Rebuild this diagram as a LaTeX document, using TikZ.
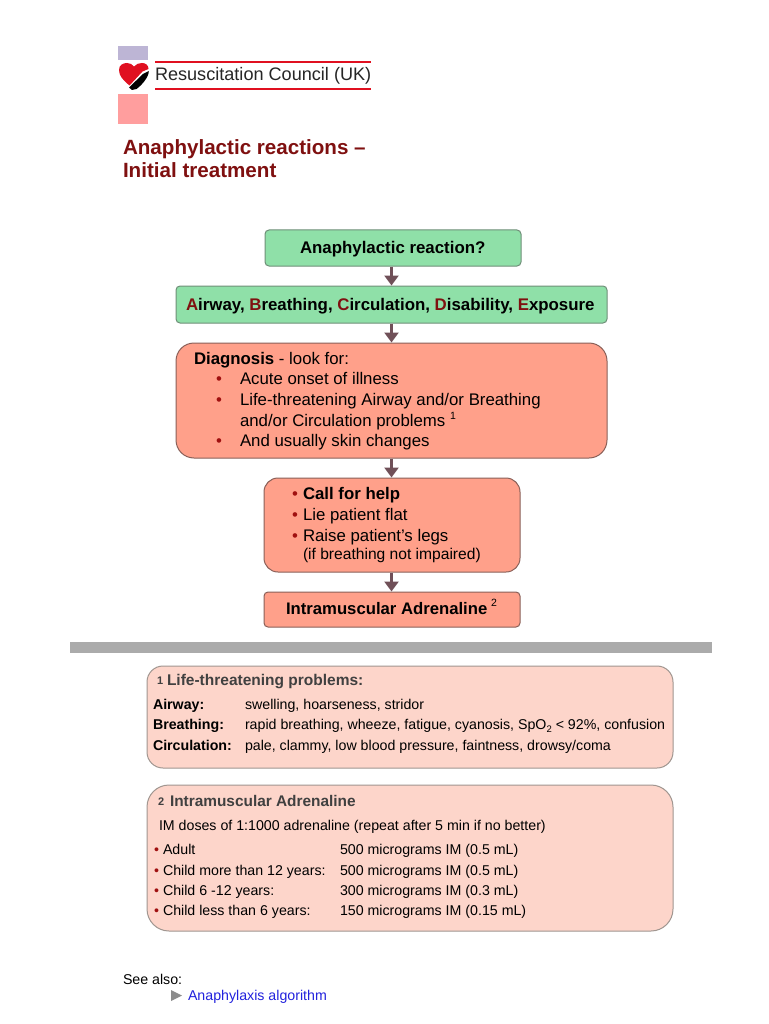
\documentclass[tikz,border=0pt]{standalone}
\usepackage{fontspec}
\setmainfont{Liberation Sans}
\usetikzlibrary{arrows.meta}
\definecolor{gfill}{HTML}{8FE0A8}
\definecolor{gline}{HTML}{6F8F78}
\definecolor{sfill}{HTML}{FFA08A}
\definecolor{sline}{HTML}{8A6058}
\definecolor{pfill}{HTML}{FDD5CA}
\definecolor{pline}{HTML}{A09690}
\definecolor{arr}{HTML}{705058}
\definecolor{dred}{HTML}{7F1010}
\definecolor{bul}{HTML}{A01010}
\definecolor{hd}{HTML}{404040}
\definecolor{lnk}{HTML}{2222DD}
\definecolor{lil}{HTML}{BDB5D5}
\definecolor{rul}{HTML}{E01020}
\tikzset{
 box/.style={draw=#1,line width=1pt,inner sep=0pt},
 gbox/.style={box=gline,fill=gfill,rounded corners=4pt},
 sbox/.style={box=sline,fill=sfill},
 pbox/.style={box=pline,fill=pfill},
 txt/.style={anchor=base west,inner sep=0pt,outer sep=0pt,text=black},
 big/.style={txt,font=\fontsize{16.8}{18}\selectfont},
 bigb/.style={txt,font=\bfseries\fontsize{16.85}{18}\selectfont},
 mid/.style={txt,font=\fontsize{15.6}{16}\selectfont},
 sm/.style={txt,font=\fontsize{14.2}{16}\selectfont},
 smb/.style={txt,font=\bfseries\fontsize{14.2}{16}\selectfont},
 arrow/.style={draw=arr,line width=2.6pt,-{Triangle[width=14pt,length=10pt]}},
}
\newcommand{\rl}[1]{\textcolor{dred}{#1}}
\newcommand{\bu}{\textcolor{bul}{•}}
\begin{document}
\begin{tikzpicture}[x=1pt,y=-1pt]
\useasboundingbox (0,0) rectangle (768,1024);
\fill[white] (0,0) rectangle (768,1024);
% logo
\fill[lil] (118,46) rectangle (148,60);
\fill[red!38] (118,94) rectangle (148,124);
\fill[rul] (129.5,85.5) .. controls (123,80) and (119,76) .. (119,70) .. controls (119,65) and (123,63) .. (127,63) .. controls (130,63) and (132.5,64.5) .. (134,66.5) .. controls (136,64) and (139,63) .. (142,63) .. controls (146,63) and (148.5,65.5) .. (148.5,69) -- (142.5,71.5) -- cycle;
\fill[black] (129,87.5) -- (143,74) -- (148.8,71) .. controls (148.8,77) and (142,85) .. (136.5,89) -- (132,90) -- cycle;
\draw[rul,line width=1.5pt] (155,62) -- (371,62);
\draw[rul,line width=1.5pt] (155,89) -- (371,89);
\node[txt,font=\fontsize{18.1}{20}\selectfont,text=black!85] (logo) at (155,81) {Resuscitation Council (UK)};
% title
\node[txt,font=\bfseries\fontsize{20.6}{22}\selectfont,text=dred] (t1) at (123,154.5) {Anaphylactic reactions –};
\node[txt,font=\bfseries\fontsize{20.6}{22}\selectfont,text=dred] (t2) at (123,177.5) {Initial treatment};
% boxes
\node[gbox,minimum width=256pt,minimum height=36pt] (b1) at (393,248) {};
\node[gbox,minimum width=431pt,minimum height=37pt] (b2) at (391.5,304.5) {};
\node[sbox,rounded corners=18pt,minimum width=431pt,minimum height=115pt] (b3) at (391.5,400.5) {};
\node[sbox,rounded corners=14pt,minimum width=256pt,minimum height=94pt] (b4) at (392,525) {};
\node[sbox,rounded corners=4pt,minimum width=256pt,minimum height=35pt] (b5) at (392,609.5) {};
\draw[arrow] (b2.north |- b1.south) -- (b2.north);
\draw[arrow] (b2.south) -- (b3.north);
\draw[arrow] (b3.south) -- (b3.south |- b4.north);
\draw[arrow] (b3.south |- b4.south) -- (b3.south |- b5.north);
% box text
\node[bigb] (a1) at (300,253.6) {Anaphylactic reaction?};
\node[bigb] (a2) at (186,310) {\rl{A}irway, \rl{B}reathing, \rl{C}irculation, \rl{D}isability, \rl{E}xposure};
\node[big] (d0) at (194,364.7) {\textbf{Diagnosis} - look for:};
\node[big] (d1b) at (216,384.7) {\bu};
\node[big] (d1) at (240,384.7) {Acute onset of illness};
\node[big] (d2b) at (216,405.5) {\bu};
\node[big] (d2) at (240,405.5) {Life-threatening Airway and/or Breathing};
\node[big] (d3) at (240,426) {and/or Circulation problems};
\node[txt,font=\fontsize{10.5}{11}\selectfont] (d3s) at (450,419) {1};
\node[big] (d4b) at (216,446) {\bu};
\node[big] (d4) at (240,446) {And usually skin changes};
\node[big] (c1b) at (292,499.7) {\bu};
\node[big] (c1) at (303,499.7) {\textbf{Call for help}};
\node[big] (c2b) at (292,520.5) {\bu};
\node[big] (c2) at (303,520.5) {Lie patient flat};
\node[big] (c3b) at (292,541) {\bu};
\node[big] (c3) at (303,541) {Raise patient’s legs};
\node[mid] (c4) at (303,559) {(if breathing not impaired)};
\node[txt,font=\bfseries\fontsize{16.7}{18}\selectfont] (e1) at (286,614) {Intramuscular Adrenaline};
\node[txt,font=\fontsize{10.5}{11}\selectfont] (e1s) at (491,606) {2};
% bar
\fill[black!33] (70,642) rectangle (712,653);
% note 1
\node[pbox,rounded corners=16pt,minimum width=526pt,minimum height=102pt] (n1) at (410,717) {};
\node[txt,font=\bfseries\fontsize{11}{12}\selectfont,text=hd] (n1a) at (157,684) {1};
\node[txt,font=\bfseries\fontsize{15.5}{16}\selectfont,text=hd] (n1b) at (167,685) {Life-threatening problems:};
\node[smb] (n1c) at (153,709) {Airway:};
\node[sm] (n1d) at (245,709) {swelling, hoarseness, stridor};
\node[smb] (n1e) at (153,729.5) {Breathing:};
\node[sm] (n1f) at (245,729.5) {rapid breathing, wheeze, fatigue, cyanosis, SpO\raisebox{-2.5pt}{\fontsize{9.5}{10}\selectfont 2} < 92\%, confusion};
\node[smb] (n1g) at (153,750) {Circulation:};
\node[sm] (n1h) at (245,750) {pale, clammy, low blood pressure, faintness, drowsy/coma};
% note 2
\node[pbox,rounded corners=22pt,minimum width=526pt,minimum height=146pt] (n2) at (410,858) {};
\node[txt,font=\bfseries\fontsize{11}{12}\selectfont,text=hd] (n2a) at (158,805) {2};
\node[txt,font=\bfseries\fontsize{15.4}{16}\selectfont,text=hd] (n2b) at (170,806) {Intramuscular Adrenaline};
\node[sm] (n2c) at (159,830) {IM doses of 1:1000 adrenaline (repeat after 5 min if no better)};
\node[sm] (r1b) at (154,854.5) {\bu};
\node[sm] (r1) at (163,854.5) {Adult};
\node[sm] (r1v) at (340,854.5) {500 micrograms IM (0.5 mL)};
\node[sm] (r2b) at (154,875) {\bu};
\node[sm] (r2) at (163,875) {Child more than 12 years:};
\node[sm] (r2v) at (340,875) {500 micrograms IM (0.5 mL)};
\node[sm] (r3b) at (154,895) {\bu};
\node[sm] (r3) at (163,895) {Child 6 -12 years:};
\node[sm] (r3v) at (340,895) {300 micrograms IM (0.3 mL)};
\node[sm] (r4b) at (154,915) {\bu};
\node[sm] (r4) at (163,915) {Child less than 6 years:};
\node[sm] (r4v) at (340,915) {150 micrograms IM (0.15 mL)};
% see also
\node[sm] (s1) at (123,984) {See also:};
\fill[black!45] (171,990) -- (182,995.5) -- (171,1001) -- cycle;
\node[sm,text=lnk] (s2) at (188,1000) {Anaphylaxis algorithm};
\end{tikzpicture}
\end{document}
